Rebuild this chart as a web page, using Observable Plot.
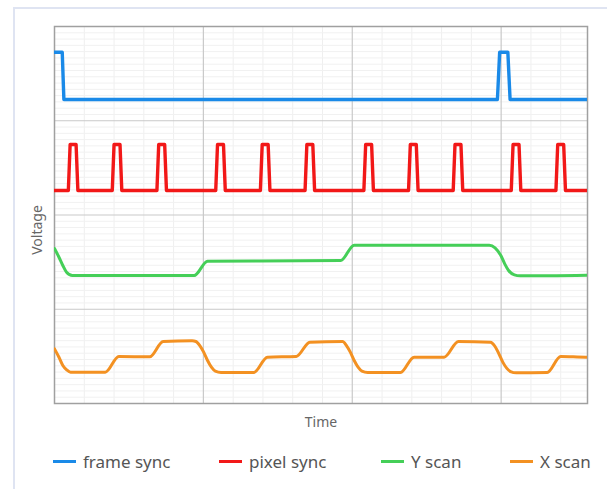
<!DOCTYPE html>
<html><head><meta charset="utf-8">
<script src="https://cdn.jsdelivr.net/npm/d3@7"></script>
<script src="https://cdn.jsdelivr.net/npm/@observablehq/plot@0.6"></script>
<style>
body{margin:0;background:#fff;font-family:"Noto Sans",sans-serif;overflow:hidden;}
#card{position:absolute;left:13px;top:7px;width:700px;height:600px;border:2px solid #dfe4f2;}
#chart{position:absolute;left:0;top:0;}
#legend{position:absolute;left:0;top:0;width:607px;height:489px;}
.item{position:absolute;top:450px;height:22px;display:flex;align-items:center;font-size:17px;color:#555;white-space:nowrap;}
.sw{width:23px;height:3px;margin-right:7px;}
#ylabel{position:absolute;left:37px;top:230px;transform:translate(-50%,-50%) rotate(-90deg);font-size:14px;color:#666;white-space:nowrap;line-height:16px;}
</style></head><body>
<div id="card"></div>
<div id="chart"></div>
<div id="legend"></div>
<div id="ylabel"></div>
<script>
// ---- data ----
const seriesNames = ["frame sync", "pixel sync", "Y scan", "X scan"];
const seriesColors = ["#1a8ae8", "#f21818", "#45cf58", "#f39122"];
const xLabel = "Time";
const yLabel = "Voltage";
const timeDomain = [0, 358];
const voltDomain = [0, 4];
const majorTimeTicks = [100, 200, 300];
const majorVoltTicks = [1, 2, 3];

// frame sync: low/high levels and pulse edges [rise start, rise end, fall start, fall end]
const frameLow = 3.225, frameHigh = 3.727;
const framePulses = [[-3, -2, 5.2, 6.3], [297.5, 299, 304.5, 306]];

// pixel sync: levels and pulse outer edges [start, end]
const pixelLow = 2.26, pixelHigh = 2.748;
const pixelPulses = [[9.3,15.7],[38.8,45.2],[68.8,75.2],[108.3,114.7],[138.3,144.7],[168.3,174.7],[207.8,214.2],[237.8,244.2],[267.8,274.2],[306.8,313.2],[336.8,343.2]];

// Y scan vertices
const yScanT = [0, 3.0, 5.6, 8.1, 12, 93.8, 102.8, 192.2, 201.3, 292, 295.9, 299.8, 302.4, 305, 308.9, 312.7, 358];
const yScanV = [1.645, 1.552, 1.464, 1.393, 1.358, 1.358, 1.51, 1.517, 1.68, 1.68, 1.652, 1.570, 1.482, 1.411, 1.365, 1.355, 1.362];

// X scan vertices
const xScanT = [0, 3.0, 5.6, 8.2, 10.8, 34.1, 43.2, 63.9, 73.0, 92.4, 95, 97.6, 100.2, 102.8, 105.4, 108, 111.9,
  133.9, 143, 162.4, 171.5, 193.5, 196.1, 198.7, 201.3, 203.9, 206.5, 210.4,
  232.4, 241.5, 261.7, 271.3, 292.8, 295.9, 298.5, 301.1, 303.7, 306.3, 310.2,
  330.9, 340, 356.8, 358];
const xScanV = [0.580, 0.491, 0.403, 0.357, 0.332, 0.332, 0.499, 0.495, 0.658, 0.665, 0.658, 0.615, 0.545, 0.456, 0.385, 0.343, 0.329,
  0.329, 0.491, 0.499, 0.651, 0.658, 0.615, 0.545, 0.456, 0.385, 0.343, 0.329,
  0.329, 0.492, 0.492, 0.658, 0.651, 0.605, 0.527, 0.439, 0.375, 0.339, 0.325,
  0.329, 0.499, 0.492, 0.492];

// ---- build tables ----
const frameData = [];
framePulses.forEach(([a, b, c, d]) => {
  frameData.push({t: a, v: frameLow}, {t: b, v: frameHigh}, {t: c, v: frameHigh}, {t: d, v: frameLow});
});
frameData.push({t: timeDomain[1], v: frameLow});

const pixelData = [{t: 0, v: pixelLow}];
pixelPulses.forEach(([s, e]) => {
  pixelData.push({t: s, v: pixelLow}, {t: s + 1.2, v: pixelHigh}, {t: e - 1.2, v: pixelHigh}, {t: e, v: pixelLow});
});
pixelData.push({t: timeDomain[1], v: pixelLow});

const yScanData = yScanT.map((t, i) => ({t, v: yScanV[i]}));
const xScanData = xScanT.map((t, i) => ({t, v: xScanV[i]}));

const minorTimeTicks = d3.range(20, timeDomain[1], 20).filter(d => d % 100 !== 0);
const minorVoltTicks = d3.range(1, 60).map(i => i / 15).filter(d => Math.abs(d - Math.round(d)) > 1e-6 && d < 4);

const chart = Plot.plot({
  width: 607,
  height: 440,
  marginLeft: 54,
  marginRight: 20,
  marginTop: 26,
  marginBottom: 37,
  x: {domain: timeDomain, axis: null},
  y: {domain: voltDomain, axis: null},
  style: {fontFamily: "Noto Sans, sans-serif", background: "transparent"},
  marks: [
    Plot.ruleX(minorTimeTicks, {stroke: "#efefef", strokeWidth: 1}),
    Plot.ruleY(minorVoltTicks, {stroke: "#f1f1f1", strokeWidth: 1}),
    Plot.ruleX(majorTimeTicks, {stroke: "#c9c9c9", strokeWidth: 1.2}),
    Plot.ruleY(majorVoltTicks, {stroke: "#c9c9c9", strokeWidth: 1.2}),
    Plot.frame({stroke: "#a0a0a0", strokeWidth: 1.5}),
    Plot.line(frameData, {x: "t", y: "v", stroke: seriesColors[0], strokeWidth: 3.4, strokeLinejoin: "round", clip: true}),
    Plot.line(pixelData, {x: "t", y: "v", stroke: seriesColors[1], strokeWidth: 3.4, strokeLinejoin: "round", clip: true}),
    Plot.line(yScanData, {x: "t", y: "v", stroke: seriesColors[2], strokeWidth: 3, curve: "monotone-x", clip: true}),
    Plot.line(xScanData, {x: "t", y: "v", stroke: seriesColors[3], strokeWidth: 3, curve: "monotone-x", clip: true}),
    Plot.text([xLabel], {frameAnchor: "bottom", dy: 23, fontSize: 14, fill: "#666"})
  ]
});
document.getElementById("chart").appendChild(chart);
document.getElementById("ylabel").textContent = yLabel;

const legendLefts = [53, 219, 381, 510];
const legend = document.getElementById("legend");
seriesNames.forEach((name, i) => {
  const item = document.createElement("div");
  item.className = "item";
  item.style.left = legendLefts[i] + "px";
  item.innerHTML = `<span class="sw" style="background:${seriesColors[i]}"></span><span>${name}</span>`;
  legend.appendChild(item);
});
</script>
</body></html>
